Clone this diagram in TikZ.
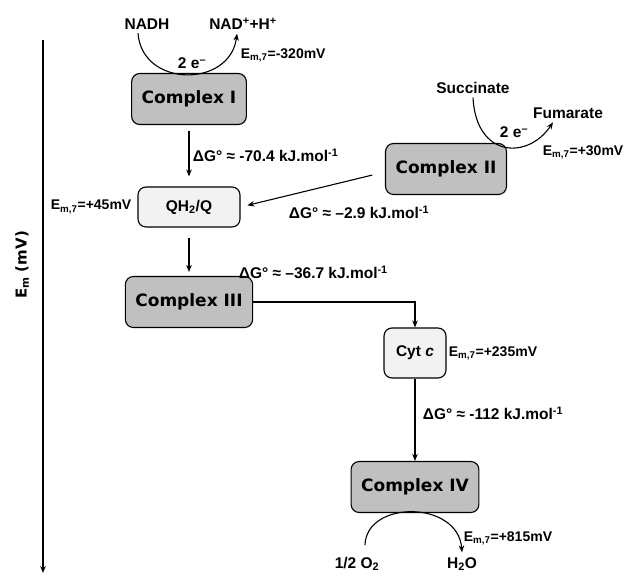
\documentclass[tikz,border=0pt]{standalone}
\usepackage{fontspec}
\setmainfont{Liberation Sans}
\newfontfamily\heavyfont{DejaVu Sans}
\usepackage{xcolor}
\usepackage{tikz}
\usetikzlibrary{arrows.meta}
\definecolor{cplxgray}{RGB}{192,192,192}
\definecolor{carriergray}{RGB}{242,242,242}
\newcommand{\Emseven}{E\textsubscript{m,7}}

\begin{document}
\begin{tikzpicture}[x=1pt,y=-1pt,font=\fontsize{15.5}{18}\selectfont\bfseries,
  >={Stealth[length=7pt,width=5.5pt]},line width=1.1pt,
  complexbox/.style={draw,rounded corners=8pt,fill=cplxgray,inner xsep=10pt,
    minimum height=51pt,font=\heavyfont\fontsize{17}{19}\selectfont\bfseries},
  carrierbox/.style={draw,rounded corners=8pt,fill=carriergray,minimum height=50pt},
  potential/.style={anchor=west,font=\fontsize{14}{16}\selectfont\bfseries}]
\useasboundingbox (0,0) rectangle (627,577);
% energy axis
\coordinate (axtop) at (43,40);
\coordinate (axbot) at (43,573);
\draw[->] (axtop) -- (axbot);
\node[rotate=90,font=\heavyfont\fontsize{15}{17}\selectfont\bfseries] (emaxis) at (22,265) {E\textsubscript{m} (mV)};
% complexes and carriers
\node[complexbox] (cplxI) at (189,99) {Complex I};
\node[complexbox] (cplxII) at (446,169) {Complex II};
\node[carrierbox,minimum width=102pt,minimum height=40pt] (quin) at (189,207) {QH\textsubscript{2}/Q};
\node[complexbox] (cplxIII) at (189,302) {Complex III};
\node[carrierbox,minimum width=62pt] (cytc) at (415,353) {Cyt \textit{c}};
\node[complexbox] (cplxIV) at (415,487) {Complex IV};
% substrates and products
\node (nadh) at (147,24) {NADH};
\node (nad) at (243,24) {NAD\textsuperscript{+}+H\textsuperscript{+}};
\node (eI) at (192,63) {2 e\textsuperscript{--}};
\draw[->] ([xshift=-9pt]nadh.south) .. controls (142,88) and (230,88) .. ([xshift=-6pt]nad.south);
\node (succ) at (473,88) {Succinate};
\node (fum) at (568,113) {Fumarate};
\node (eII) at (514,132) {2 e\textsuperscript{--}};
\draw[->] (succ.south) .. controls (476,158) and (528,160) .. ([xshift=-15pt]fum.south);
\node (otwo) at (357,564) {1/2 O\textsubscript{2}};
\node (water) at (462,564) {H\textsubscript{2}O};
\draw[->] ([xshift=8pt,yshift=8pt]otwo.north) .. controls (366,500) and (458,500) .. ([yshift=1pt]water.north);
% midpoint potentials
\node[potential] (emI) at (237,55) {\Emseven=-320mV};
\node[potential] (emII) at (539,152) {\Emseven=+30mV};
\node[potential] (emQ) at (47,207) {\Emseven=+45mV};
\node[potential] (emC) at (445,353) {\Emseven=+235mV};
\node[potential] (emIV) at (460,538) {\Emseven=+815mV};
% electron flow
\draw[->,shorten <=6pt,shorten >=10pt] (cplxI.south) -- (quin.north);
\draw[->,shorten <=13pt,shorten >=7pt] ([yshift=-3pt]cplxII.west) -- (quin.east);
\draw[->,shorten <=10pt,shorten >=4pt] (quin.south) -- (cplxIII.north);
\draw[->] (cplxIII.east) -| (cytc.north);
\draw[->] (cytc.south) -- (cplxIV.north);
% free energy changes
\node[anchor=west] (dgI) at (189,155) {ΔG° ≈ -70.4 kJ.mol\textsuperscript{-1}};
\node[anchor=west] (dgII) at (285,212) {ΔG° ≈ –2.9 kJ.mol\textsuperscript{-1}};
\node[anchor=west] (dgIII) at (235,272) {ΔG° ≈ –36.7 kJ.mol\textsuperscript{-1}};
\node[anchor=west] (dgIV) at (419,413) {ΔG° ≈ -112 kJ.mol\textsuperscript{-1}};
\end{tikzpicture}
\end{document}
